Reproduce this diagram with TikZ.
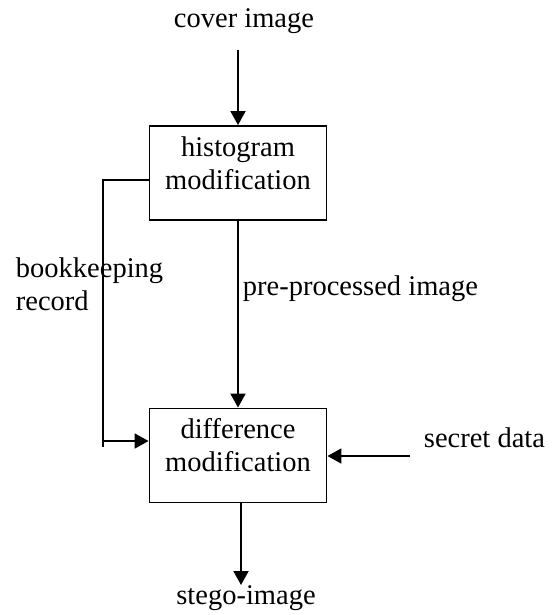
\documentclass[tikz,border=0pt]{standalone}
\usepackage{fontspec}
\setmainfont{Liberation Serif}
\usetikzlibrary{arrows.meta}
\begin{document}
\begin{tikzpicture}[x=1pt,y=-1pt,
  line width=1.9pt,
  every node/.style={font=\fontsize{28.5}{33}\selectfont, inner sep=0pt},
  procbox/.style={draw, minimum width=177pt, minimum height=94pt},
  boxtext/.style={align=center, anchor=north},
  flow/.style={-{Triangle[length=14pt,width=15pt]}}]
  \useasboundingbox (0,0) rectangle (555,615);

  % processing blocks
  \node[procbox] (hm) at (238,173) {};
  \node[procbox] (dm) at (238,455.5) {};
  \node[boxtext] (hmt) at (238,135.5) {histogram\\modification};
  \node[boxtext] (dmt) at (238,417.5) {difference\\modification};

  % labels
  \node[anchor=base] (cover) at (244,28) {cover image};
  \node[anchor=base] (stego) at (246,604) {stego-image};
  \node[anchor=base west] (secret) at (423,447) {secret data};
  \node[anchor=base west] (pre) at (242,295) {pre-processed image};
  \node[anchor=base west, align=left] (book) at (15,310) {bookkeeping\\record};

  % connector end points
  \coordinate (cin) at (238,50);
  \coordinate (sin) at (410,456);
  \coordinate (sout) at (241,585);
  \coordinate (bk1) at (103,180);
  \coordinate (bk2) at (103,447);
  \coordinate (bk3) at (103,441);

  % connectors
  \draw[flow] (cin) -- (cin |- hm.north);
  \draw[flow] (hm.south) -- (dm.north);
  \draw (hm.west |- bk1) -- (bk1) -- (bk2);
  \draw[flow] (bk3) -- (dm.west |- bk3);
  \draw[flow] (sin) -- (dm.east |- sin);
  \draw[flow] (sout |- dm.south) -- (sout);
\end{tikzpicture}
\end{document}
